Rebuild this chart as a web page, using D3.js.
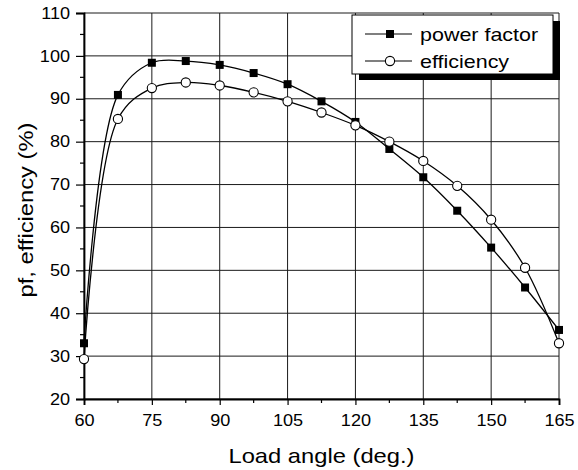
<!DOCTYPE html>
<html><head><meta charset="utf-8">
<script src="https://cdn.jsdelivr.net/npm/d3@7"></script>
<style>body{margin:0;background:#fff;} svg{display:block;font-family:"Liberation Sans",Arial,sans-serif;}</style>
</head><body>
<svg id="c" width="578" height="470"></svg>
<script>
const loadAngle = [60, 67.5, 75, 82.5, 90, 97.5, 105, 112.5, 120, 127.5, 135, 142.5, 150, 157.5, 165];
const powerFactor = [33, 90.9, 98.4, 98.8, 97.9, 96.0, 93.4, 89.4, 84.6, 78.3, 71.7, 63.9, 55.3, 46.0, 36.1];
const efficiency = [29.3, 85.3, 92.5, 93.8, 93.1, 91.5, 89.4, 86.8, 83.8, 80.0, 75.5, 69.7, 61.8, 50.6, 33.0];
const xTicks = [60, 75, 90, 105, 120, 135, 150, 165];
const yTicks = [20, 30, 40, 50, 60, 70, 80, 90, 100, 110];
const seriesNames = ["power factor", "efficiency"];

const STRETCH = 1.13;
function stretch(sel) {
  sel.each(function() {
    const n = this.getComputedTextLength();
    this.setAttribute("textLength", n * STRETCH);
    this.setAttribute("lengthAdjust", "spacingAndGlyphs");
  });
}

const svg = d3.select("#c");
const m = {l: 84, r: 19, t: 13, b: 71};
const W = 578, H = 470;
const x = d3.scaleLinear().domain([60, 165]).range([m.l, W - m.r]);
const y = d3.scaleLinear().domain([20, 110]).range([H - m.b, m.t]);

const g = svg.append("g");
// grid
g.selectAll(".gx").data(xTicks).join("line")
  .attr("x1", d => x(d)).attr("x2", d => x(d)).attr("y1", y(20)).attr("y2", y(110))
  .attr("stroke", "#1a1a1a").attr("stroke-width", 1);
g.selectAll(".gy").data(yTicks).join("line")
  .attr("y1", d => y(d)).attr("y2", d => y(d)).attr("x1", x(60)).attr("x2", x(165))
  .attr("stroke", "#1a1a1a").attr("stroke-width", 1);

// axes
const xAxis = d3.axisBottom(x).tickValues(xTicks).tickSize(6).tickPadding(10).tickFormat(d3.format("d"));
const yAxis = d3.axisLeft(y).tickValues(yTicks).tickSize(8).tickPadding(6).tickFormat(d3.format("d"));
const gx = svg.append("g").attr("transform", `translate(0,${y(20)})`).call(xAxis);
const gy = svg.append("g").attr("transform", `translate(${x(60)},0)`).call(yAxis);
[gx, gy].forEach(a => {
  a.select(".domain").attr("stroke", "#000").attr("stroke-width", 1.8);
  a.selectAll(".tick line").attr("stroke", "#000").attr("stroke-width", 1.2);
  a.selectAll("text").attr("font-size", 16).attr("fill", "#000").attr("font-family", "Liberation Sans, Arial, sans-serif").call(stretch);
});
// minor ticks
const xMinor = d3.range(67.5, 165, 15);
const yMinor = d3.range(25, 110, 10);
svg.append("g").selectAll("line").data(xMinor).join("line")
  .attr("x1", d => x(d)).attr("x2", d => x(d)).attr("y1", y(20)).attr("y2", y(20) + 4)
  .attr("stroke", "#000").attr("stroke-width", 1.2);
svg.append("g").selectAll("line").data(yMinor).join("line")
  .attr("y1", d => y(d)).attr("y2", d => y(d)).attr("x1", x(60) - 4).attr("x2", x(60))
  .attr("stroke", "#000").attr("stroke-width", 1.2);

// axis titles
svg.append("text").attr("x", (x(60) + x(165)) / 2).attr("y", 463).attr("text-anchor", "middle")
  .attr("font-size", 21).text("Load angle (deg.)").call(stretch);
svg.append("text").attr("transform", `translate(33,${(y(20) + y(110)) / 2 + 4}) rotate(-90)`)
  .attr("text-anchor", "middle").attr("font-size", 21).text("pf, efficiency (%)").call(stretch);

// lines
const line = d3.line().x(d => x(d[0])).y(d => y(d[1])).curve(d3.curveCatmullRom.alpha(0.5));
const pf = loadAngle.map((a, i) => [a, powerFactor[i]]);
const ef = loadAngle.map((a, i) => [a, efficiency[i]]);
svg.append("path").attr("d", line(pf)).attr("fill", "none").attr("stroke", "#000").attr("stroke-width", 1.3);
svg.append("path").attr("d", line(ef)).attr("fill", "none").attr("stroke", "#000").attr("stroke-width", 1.3);
svg.append("g").selectAll("rect").data(pf).join("rect")
  .attr("x", d => x(d[0]) - 4).attr("y", d => y(d[1]) - 4).attr("width", 8).attr("height", 8).attr("fill", "#000");
svg.append("g").selectAll("circle").data(ef).join("circle")
  .attr("cx", d => x(d[0])).attr("cy", d => y(d[1])).attr("r", 4.6)
  .attr("fill", "#fff").attr("stroke", "#000").attr("stroke-width", 1.1);

// legend
const lg = svg.append("g");
lg.append("rect").attr("x", 359).attr("y", 21).attr("width", 201).attr("height", 59).attr("fill", "#000");
lg.append("rect").attr("x", 352).attr("y", 15).attr("width", 201).attr("height", 59)
  .attr("fill", "#fff").attr("stroke", "#000").attr("stroke-width", 1);
const ly = [34, 61];
seriesNames.forEach((n, i) => {
  lg.append("line").attr("x1", 365).attr("x2", 412).attr("y1", ly[i]).attr("y2", ly[i]).attr("stroke", "#000").attr("stroke-width", 1.2);
  lg.append("text").attr("x", 420).attr("y", ly[i] + 7).attr("font-size", 19).text(n).call(stretch);
});
lg.append("rect").attr("x", 386).attr("y", ly[0] - 4).attr("width", 8).attr("height", 8).attr("fill", "#000");
lg.append("circle").attr("cx", 390).attr("cy", ly[1]).attr("r", 4.6).attr("fill", "#fff").attr("stroke", "#000").attr("stroke-width", 1.1);
</script>
</body></html>
